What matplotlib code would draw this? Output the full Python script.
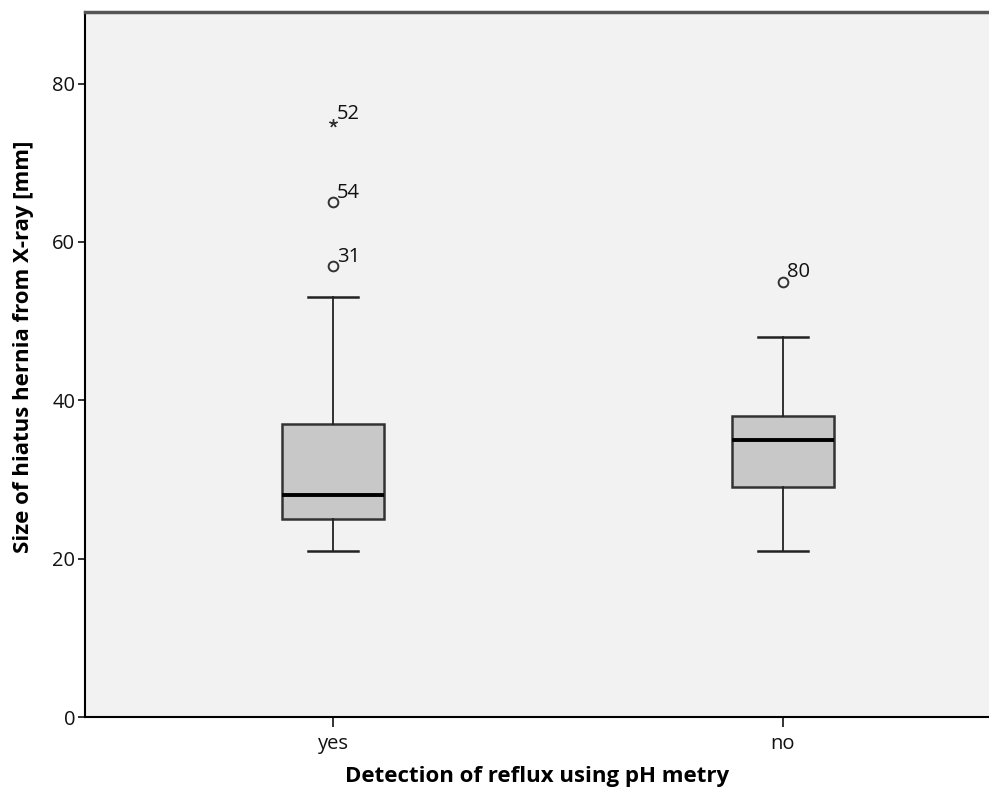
import matplotlib
matplotlib.use('Agg')
import matplotlib.pyplot as plt

plt.rcParams['font.family'] = ['Open Sans', 'DejaVu Sans']

groups = ['yes', 'no']
whislo = [21, 21]
q1 = [25, 29]
med = [28, 35]
q3 = [37, 38]
whishi = [53, 48]
out_vals = [[57, 65], [55]]
out_ids = [['31', '54'], ['80']]
extreme_vals = [[75], []]
extreme_ids = [['52'], []]

stats = []
for i, g in enumerate(groups):
    stats.append({'label': g, 'whislo': whislo[i], 'q1': q1[i], 'med': med[i],
                  'q3': q3[i], 'whishi': whishi[i], 'fliers': []})

fig = plt.figure(figsize=(9.89, 7.9), dpi=100)
ax = fig.add_axes([0.086, 0.0924, 0.914, 0.892])
ax.set_facecolor('#f2f2f2')

pos = [1, 2]
ax.bxp(stats, positions=pos, widths=0.227, patch_artist=True, showfliers=False,
       boxprops=dict(facecolor='#c8c8c8', edgecolor='#333333', linewidth=1.8),
       medianprops=dict(color='black', linewidth=2.8),
       whiskerprops=dict(color='#222222', linewidth=1.3),
       capprops=dict(color='#222222', linewidth=1.8), capwidths=0.113)

for i in range(len(groups)):
    for v, lab in zip(out_vals[i], out_ids[i]):
        ax.plot(pos[i], v, 'o', ms=7, mfc='none', mec='#333333', mew=1.4)
        ax.annotate(lab, (pos[i], v), xytext=(3, 3), textcoords='offset points',
                    fontsize=14.5, color='#111111')
    for v, lab in zip(extreme_vals[i], extreme_ids[i]):
        ax.plot(pos[i], v, marker=(5, 2, 0), ms=6, color='#333333', mew=1.0)
        ax.annotate(lab, (pos[i], v), xytext=(3, 3), textcoords='offset points',
                    fontsize=14.5, color='#111111')

ax.set_xlim(0.449, 2.458)
ax.set_ylim(0, 89)
ax.set_yticks([0, 20, 40, 60, 80])
ax.set_xticks(pos)
ax.set_xticklabels(groups)
ax.tick_params(axis='both', labelsize=14.5, direction='out', width=1.2, colors='#111111')
ax.tick_params(axis='y', length=5, pad=2)
ax.tick_params(axis='x', length=7, pad=5)

for s in ['left', 'bottom']:
    ax.spines[s].set_color('black')
    ax.spines[s].set_linewidth(1.5)
ax.spines['top'].set_color('#555555')
ax.spines['top'].set_linewidth(2.5)
ax.spines['right'].set_visible(False)

ax.set_ylabel('Size of hiatus hernia from X-ray [mm]', fontsize=16, fontweight='bold')
ax.yaxis.set_label_coords(-0.057, 0.525)
ax.set_xlabel('Detection of reflux using pH metry', fontsize=16, fontweight='bold', labelpad=9)

fig.savefig('out.png', dpi=100)
